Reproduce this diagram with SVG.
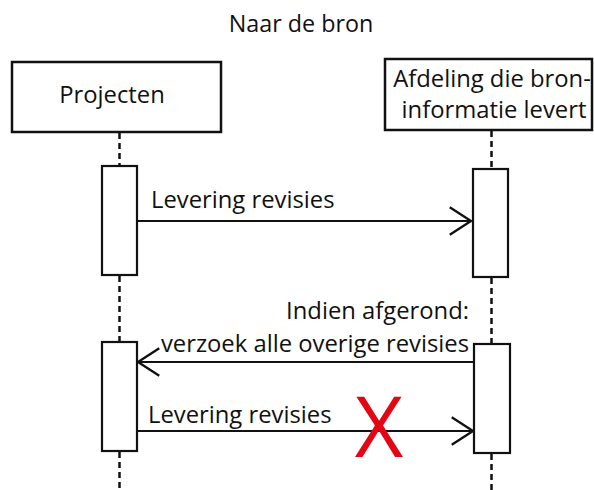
<svg xmlns="http://www.w3.org/2000/svg" width="594" height="490" viewBox="0 0 594 490">
  <style>
    text { font-family: "Open Sans", "Noto Sans", sans-serif; font-size: 23.8px; fill: #111111; }
    .title { font-size: 23.3px; }
    .box { fill: #ffffff; stroke: #111111; stroke-width: 2.5; }
    .act { fill: #ffffff; stroke: #111111; stroke-width: 2.2; }
    .life { stroke: #111111; stroke-width: 2.5; stroke-dasharray: 6 4; fill: none; }
    .msg { stroke: #111111; stroke-width: 2; fill: none; }
    .cross { fill: #e30613; font-size: 84px; }
  </style>
  <defs>
    <marker id="open-arrow" markerUnits="userSpaceOnUse" markerWidth="30" markerHeight="34" viewBox="-24 -16 28 32" refX="0" refY="0" orient="auto" overflow="visible">
      <path d="M -20 -13 L 0 0 L -20 13" fill="none" stroke="#111111" stroke-width="2.2"/>
    </marker>
  </defs>

  <text class="title" x="301" y="32" text-anchor="middle">Naar de bron</text>

  <!-- lifelines -->
  <g id="lifelines">
    <line class="life" x1="119.5" y1="133" x2="119.5" y2="166"/>
    <line class="life" x1="119.5" y1="276" x2="119.5" y2="342"/>
    <line class="life" x1="119.5" y1="452" x2="119.5" y2="490"/>
    <line class="life" x1="491.5" y1="131" x2="491.5" y2="169"/>
    <line class="life" x1="491.5" y1="278" x2="491.5" y2="344"/>
    <line class="life" x1="491.5" y1="454" x2="491.5" y2="490"/>
  </g>

  <g id="projecten">
    <rect class="box" x="12" y="62" width="209" height="70"/>
    <text x="112" y="103" text-anchor="middle">Projecten</text>
  </g>

  <g id="afdeling">
    <rect class="box" x="385" y="59" width="207" height="71"/>
    <text x="492" y="87" text-anchor="middle">Afdeling die bron-</text>
    <text x="494" y="118" text-anchor="middle">informatie levert</text>
  </g>

  <g id="activations">
    <rect class="act" x="102" y="166" width="35" height="109"/>
    <rect class="act" x="473" y="169" width="35" height="108"/>
    <rect class="act" x="102" y="342" width="35" height="109"/>
    <rect class="act" x="474" y="344" width="36" height="109"/>
  </g>

  <g id="connectors">
    <line class="msg" x1="138" y1="221" x2="471" y2="221" marker-end="url(#open-arrow)"/>
    <line class="msg" x1="473" y1="362" x2="138" y2="362" marker-end="url(#open-arrow)"/>
    <line class="msg" x1="138" y1="431" x2="473" y2="431" marker-end="url(#open-arrow)"/>
  </g>

  <g id="labels">
    <text x="151" y="208">Levering revisies</text>
    <text x="469" y="319" text-anchor="end">Indien afgerond:</text>
    <text x="469" y="352" text-anchor="end">verzoek alle overige revisies</text>
    <text x="148" y="423">Levering revisies</text>
    <text class="cross" x="379" y="457" text-anchor="middle">X</text>
  </g>
</svg>
